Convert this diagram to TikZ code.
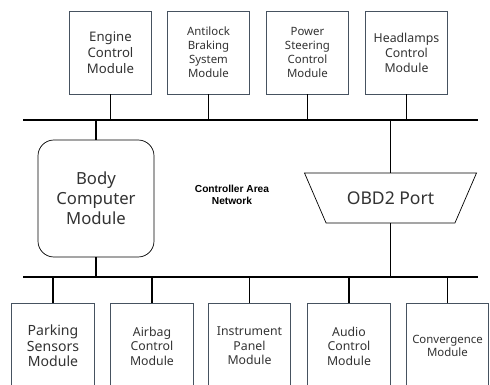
\documentclass[tikz,border=0pt]{standalone}
\usepackage{fontspec}
\setmainfont{Noto Sans}
\newfontfamily\canfont{Liberation Sans}
\usepackage{tikz}
\usetikzlibrary{shapes.geometric,positioning}
\definecolor{boxline}{RGB}{70,82,96}
\tikzset{
  modbox/.style={draw=boxline,fill=white,align=center,text=black!80,minimum width=1.65cm,minimum height=1.66cm,inner sep=1pt},
  bcmbox/.style={draw,fill=white,rounded corners=9pt,align=center,text=black!80,minimum width=2.32cm,minimum height=2.34cm,font=\fontsize{9.5}{11.3}\selectfont},
  portbox/.style={draw,fill=white,trapezium,shape border rotate=180,trapezium angle=56,trapezium stretches=true,minimum width=3.46cm,minimum height=1cm,text=black!80,font=\fontsize{10}{12}\selectfont},
  bus/.style={thick},
  wire/.style={thick},
}

\begin{document}
\begin{tikzpicture}[x=0.02cm,y=-0.02cm]
\useasboundingbox (0,0) rectangle (490,385);
% buses
\coordinate (topL) at (23,120); \coordinate (topR) at (478,120);
\coordinate (botL) at (23,277); \coordinate (botR) at (478,277);
\draw[bus] (topL)--(topR);
\draw[bus] (botL)--(botR);
% top row
\foreach \n/\x/\f/\l/\t in {ecm/110.5/7.5/9.2/{Engine\\Control\\Module},abs/208.5/6.5/8/{Antilock\\Braking\\System\\Module},pss/307.5/6.5/8/{Power\\Steering\\Control\\Module},hcm/406.5/7/8.5/{Headlamps\\Control\\Module}} {
  \node[modbox,font=\fontsize{\f}{\l}\selectfont] (\n) at (\x,52.5) {\t};
  \draw[wire] (\n.south)--(\n.south |- topL);
}
% bottom row (cut by the page edge)
\foreach \n/\x/\f/\l/\t in {psm/53/8/8.8/{Parking\\Sensors\\Module},acm/152/7/8.2/{Airbag\\Control\\Module},ipm/249.5/7/8.2/{Instrument\\Panel\\Module},aud/349/7/8.2/{Audio\\Control\\Module},cvm/447.5/6.5/7.5/{Convergence\\Module}} {
  \node[modbox,minimum height=1.72cm,font=\fontsize{\f}{\l}\selectfont] (\n) at (\x,346) {\t};
  \draw[wire] (\n.north)--(\n.north |- botL);
}
% middle
\node[bcmbox] (bcm) at (96,198.5) {Body\\Computer\\Module};
\draw[wire] (bcm.north)--(bcm.north |- topL);
\draw[wire] (bcm.south)--(bcm.south |- botL);
\node[portbox] (obd) at (390.5,198) {OBD2 Port};
\draw[wire] (obd.north)--(obd.north |- topL);
\draw[wire] (obd.south)--(obd.south |- botL);
\node[font=\canfont\bfseries\fontsize{5.8}{6.8}\selectfont,align=center] (can) at (232,195) {Controller Area\\Network};
\end{tikzpicture}
\end{document}
